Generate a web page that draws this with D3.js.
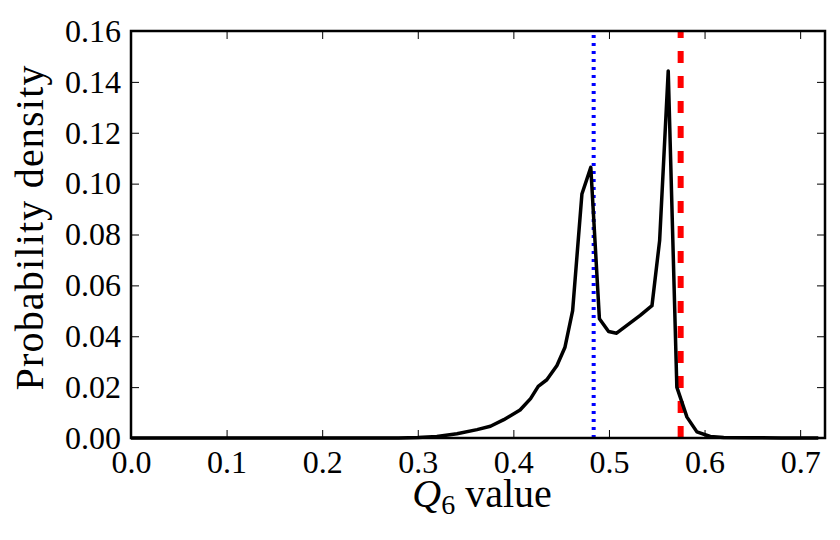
<!DOCTYPE html>
<html>
<head>
<meta charset="utf-8">
<script src="https://cdn.jsdelivr.net/npm/d3@7"></script>
<style>
  body { margin: 0; background: #fff; }
  svg text { font-family: "Liberation Serif", "DejaVu Serif", serif; }
</style>
</head>
<body>
<div id="chart"></div>
<script>
// Q6 values and the density
var q6 = [0, 0.1, 0.2, 0.28, 0.30, 0.32, 0.341, 0.362, 0.376, 0.390, 0.407, 0.418, 0.426, 0.435,
          0.4456, 0.454, 0.462, 0.4717, 0.481, 0.490, 0.4996, 0.508, 0.5327, 0.545, 0.553, 0.562,
          0.571, 0.5816, 0.592, 0.606, 0.62, 0.65, 0.68, 0.719];
var density = [0, 0, 0, 0, 0.0002, 0.0006, 0.0017, 0.0033, 0.0046, 0.0072, 0.011, 0.0155, 0.0203, 0.0229,
               0.0285, 0.0357, 0.0501, 0.0959, 0.1064, 0.0469, 0.0419, 0.0412, 0.0482, 0.052, 0.0776, 0.1443,
               0.020, 0.0082, 0.0024, 0.0006, 0.0002, 0.0001, 0, 0];
// reference lines
var blueLine = 0.484;
var redLine = 0.575;
var xTicks = [0, 0.1, 0.2, 0.3, 0.4, 0.5, 0.6, 0.7];
var yTicks = [0, 0.02, 0.04, 0.06, 0.08, 0.10, 0.12, 0.14, 0.16];

var W = 840, H = 540;
// plot box (note: "top" is taken by window.top, so use m* names)
var mLeft = 131, mTop = 31, mRight = 825, mBottom = 438;

var svg = d3.select("#chart").append("svg")
            .attr("width", W)
            .attr("height", H);

var x = d3.scaleLinear().domain([0, 0.726]).range([mLeft, mRight]);
var y = d3.scaleLinear().domain([0, 0.16]).range([mBottom, mTop]);

//inward ticks on all four sides, like the old matplotlib style
var xAxis = d3.axisBottom(x).tickValues(xTicks).tickFormat(d3.format(".1f"))
              .tickSizeInner(-8).tickSizeOuter(0).tickPadding(12);
var yAxis = d3.axisLeft(y).tickValues(yTicks).tickFormat(d3.format(".2f"))
              .tickSizeInner(-8).tickSizeOuter(0).tickPadding(10);
var xTop = d3.axisTop(x).tickValues(xTicks).tickFormat("").tickSizeInner(-8).tickSizeOuter(0);
var yRight = d3.axisRight(y).tickValues(yTicks).tickFormat("").tickSizeInner(-8).tickSizeOuter(0);

var gx = svg.append("g").attr("transform", "translate(0," + mBottom + ")").call(xAxis);
var gy = svg.append("g").attr("transform", "translate(" + mLeft + ",0)").call(yAxis);
var gt = svg.append("g").attr("transform", "translate(0," + mTop + ")").call(xTop);
var gr = svg.append("g").attr("transform", "translate(" + mRight + ",0)").call(yRight);

[gx, gy, gt, gr].forEach(function(g){
  g.select(".domain").remove();
  g.selectAll(".tick line").attr("stroke", "#000").attr("stroke-width", 1);
  g.selectAll("text").attr("fill", "#000").style("font-size", "32px");
});

// vertical reference lines (drawn from the bottom up so the dashes start at the axis)
svg.append("line")
   .attr("x1", x(blueLine)).attr("x2", x(blueLine))
   .attr("y1", y(0)).attr("y2", y(0.16))
   .attr("stroke", "#0000ff").attr("stroke-width", 4)
   .attr("stroke-dasharray", "3,5");

svg.append("line")
   .attr("x1", x(redLine)).attr("x2", x(redLine))
   .attr("y1", y(0)).attr("y2", y(0.16))
   .attr("stroke", "#ff0000").attr("stroke-width", 6)
   .attr("stroke-dasharray", "12,13");

// the density curve
var line = d3.line()
             .x(function(d, i){ return x(q6[i]); })
             .y(function(d){ return y(d); });

svg.append("path")
   .datum(density)
   .attr("d", line)
   .attr("fill", "none")
   .attr("stroke", "#000")
   .attr("stroke-width", 3.5)
   .attr("stroke-linejoin", "round");

// frame
svg.append("rect")
   .attr("x", mLeft).attr("y", mTop)
   .attr("width", mRight - mLeft).attr("height", mBottom - mTop)
   .attr("fill", "none")
   .attr("stroke", "#000")
   .attr("stroke-width", 2.5);

// axis labels
var xl = svg.append("text")
            .attr("x", (mLeft + mRight) / 2 + 4)
            .attr("y", 507)
            .attr("text-anchor", "middle")
            .style("font-size", "40px");
xl.append("tspan").style("font-style", "italic").text("Q");
xl.append("tspan").attr("dy", 7).style("font-size", "28px").text("6");
xl.append("tspan").attr("dy", -7).text(" value");

svg.append("text")
   .attr("transform", "translate(43," + 228 + ") rotate(-90)")
   .attr("text-anchor", "middle")
   .attr("textLength", 325)
   .attr("lengthAdjust", "spacing")
   .style("font-size", "40px")
   .text("Probability density");
</script>
</body>
</html>
